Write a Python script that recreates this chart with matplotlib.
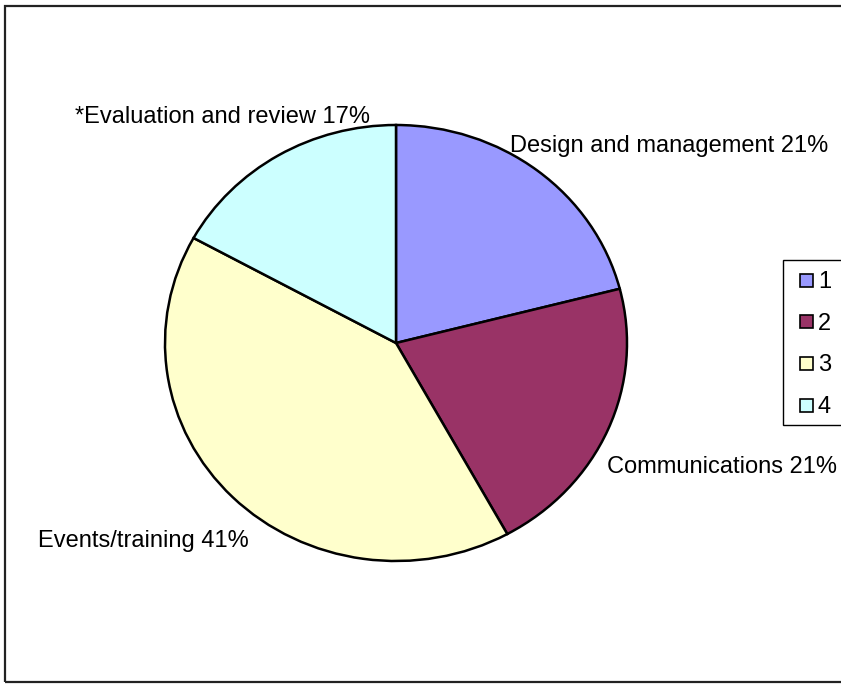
import matplotlib.pyplot as plt
from matplotlib.patches import Rectangle

plt.rcParams['font.family'] = ['Liberation Sans', 'DejaVu Sans']

labels = ['Design and management', 'Communications', 'Events/training', '*Evaluation and review']
shares = [21, 21, 41, 17]
legend_keys = ['1', '2', '3', '4']
colors = ['#9999FF', '#993366', '#FFFFCC', '#CCFFFF']

W, H = 841, 684
fig = plt.figure(figsize=(W / 100, H / 100), dpi=100)


def px(x, y):
    # pixel position (from top-left) -> figure fraction
    return x / W, 1 - y / H


# outer chart border (right side runs off the canvas)
fig.patches.append(Rectangle(px(5, 682), 1.0, 676 / H, transform=fig.transFigure,
                             fill=False, edgecolor='#222222', linewidth=1.6))

# pie is slightly wider than tall, so use auto aspect on a sized axes
cx, cy, rx, ry = 396, 343, 231, 218
ax = fig.add_axes([(cx - rx * 1.1) / W, (H - cy - ry * 1.1) / H, 2.2 * rx / W, 2.2 * ry / H])
ax.pie(shares, colors=colors, startangle=90, counterclock=False,
       wedgeprops=dict(edgecolor='black', linewidth=1.8))
ax.set_xlim(-1.1, 1.1)
ax.set_ylim(-1.1, 1.1)
ax.set_aspect('auto')
ax.axis('off')

# slice labels (x, baseline y in pixels from top)
label_pos = [(510, 152), (607, 473), (38, 547), (75, 123)]
for (x, y), name, v in zip(label_pos, labels, shares):
    fig.text(*px(x, y), f'{name} {v}%', fontsize=17, ha='left', va='baseline')

# legend box drawn by hand, clipped by the right edge
fig.patches.append(Rectangle(px(783, 425), 70 / W, 165 / H, transform=fig.transFigure,
                             facecolor='white', edgecolor='black', linewidth=1.0))
for i, (key, c) in enumerate(zip(legend_keys, colors)):
    yc = 280 + i * 41.7
    fig.patches.append(Rectangle(px(800, yc + 6.5), 13 / W, 13 / H, transform=fig.transFigure,
                                 facecolor=c, edgecolor='black', linewidth=1.2))
    fig.text(*px(818, yc + 8), key, fontsize=17, ha='left', va='baseline')

fig.savefig('out.png', dpi=100)
